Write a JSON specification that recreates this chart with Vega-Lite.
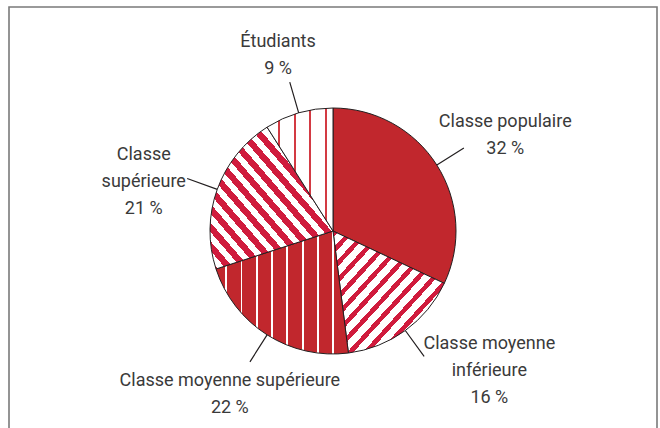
{
  "$schema": "https://vega.github.io/schema/vega-lite/v6.json",
  "autosize": "none",
  "width": 648,
  "height": 448,
  "padding": {"left": 9, "top": 7, "right": 3, "bottom": -27},
  "background": "white",
  "config": {"view": {"stroke": null}},
  "data": {"values": [
    {"order": 1, "cat": "Classe populaire", "value": 32, "label": "Classe populaire\n32 %"},
    {"order": 2, "cat": "Classe moyenne inférieure", "value": 16, "label": "Classe moyenne\ninférieure\n16 %"},
    {"order": 3, "cat": "Classe moyenne supérieure", "value": 22, "label": "Classe moyenne supérieure\n22 %"},
    {"order": 4, "cat": "Classe supérieure", "value": 21, "label": "Classe\nsupérieure\n21 %"},
    {"order": 5, "cat": "Étudiants", "value": 9, "label": "Étudiants\n9 %"}
  ]},
  "transform": [
    {"stack": "value", "groupby": [], "sort": [{"field": "order", "order": "ascending"}], "as": ["t0", "t1"]},
    {"calculate": "(datum.t0 + datum.t1) / 2", "as": "mid"}
  ],
  "layer": [
    {
      "data": {"values": [{"frame": 1}]},
      "mark": {"type": "rect", "filled": false, "stroke": "#7a7a7a", "strokeWidth": 1.6},
      "encoding": {}
    },
    {
      "mark": {"type": "arc", "outerRadius": 123, "stroke": "#231f20", "strokeWidth": 1},
      "encoding": {
        "theta": {"field": "t0", "type": "quantitative", "scale": {"domain": [0, 100]}},
        "theta2": {"field": "t1"},
        "fill": {
          "condition": [
            {"test": "datum.cat === 'Classe moyenne inférieure'", "value": {"gradient": "linear", "x1": 0, "y1": 0, "x2": 1, "y2": 1, "stops": [
              {"offset": 0, "color": "#d01b3d"}, {"offset": 0.028, "color": "#d01b3d"}, {"offset": 0.028, "color": "#ffffff"}, {"offset": 0.07, "color": "#ffffff"},
              {"offset": 0.07, "color": "#d01b3d"}, {"offset": 0.098, "color": "#d01b3d"}, {"offset": 0.098, "color": "#ffffff"}, {"offset": 0.14, "color": "#ffffff"},
              {"offset": 0.14, "color": "#d01b3d"}, {"offset": 0.168, "color": "#d01b3d"}, {"offset": 0.168, "color": "#ffffff"}, {"offset": 0.21, "color": "#ffffff"},
              {"offset": 0.21, "color": "#d01b3d"}, {"offset": 0.238, "color": "#d01b3d"}, {"offset": 0.238, "color": "#ffffff"}, {"offset": 0.28, "color": "#ffffff"},
              {"offset": 0.28, "color": "#d01b3d"}, {"offset": 0.308, "color": "#d01b3d"}, {"offset": 0.308, "color": "#ffffff"}, {"offset": 0.35, "color": "#ffffff"},
              {"offset": 0.35, "color": "#d01b3d"}, {"offset": 0.378, "color": "#d01b3d"}, {"offset": 0.378, "color": "#ffffff"}, {"offset": 0.42, "color": "#ffffff"},
              {"offset": 0.42, "color": "#d01b3d"}, {"offset": 0.448, "color": "#d01b3d"}, {"offset": 0.448, "color": "#ffffff"}, {"offset": 0.49, "color": "#ffffff"},
              {"offset": 0.49, "color": "#d01b3d"}, {"offset": 0.518, "color": "#d01b3d"}, {"offset": 0.518, "color": "#ffffff"}, {"offset": 0.56, "color": "#ffffff"},
              {"offset": 0.56, "color": "#d01b3d"}, {"offset": 0.588, "color": "#d01b3d"}, {"offset": 0.588, "color": "#ffffff"}, {"offset": 0.63, "color": "#ffffff"},
              {"offset": 0.63, "color": "#d01b3d"}, {"offset": 0.658, "color": "#d01b3d"}, {"offset": 0.658, "color": "#ffffff"}, {"offset": 0.7, "color": "#ffffff"},
              {"offset": 0.7, "color": "#d01b3d"}, {"offset": 0.728, "color": "#d01b3d"}, {"offset": 0.728, "color": "#ffffff"}, {"offset": 0.77, "color": "#ffffff"},
              {"offset": 0.77, "color": "#d01b3d"}, {"offset": 0.798, "color": "#d01b3d"}, {"offset": 0.798, "color": "#ffffff"}, {"offset": 0.84, "color": "#ffffff"},
              {"offset": 0.84, "color": "#d01b3d"}, {"offset": 0.868, "color": "#d01b3d"}, {"offset": 0.868, "color": "#ffffff"}, {"offset": 0.91, "color": "#ffffff"},
              {"offset": 0.91, "color": "#d01b3d"}, {"offset": 0.938, "color": "#d01b3d"}, {"offset": 0.938, "color": "#ffffff"}, {"offset": 0.98, "color": "#ffffff"},
              {"offset": 0.98, "color": "#d01b3d"}, {"offset": 1, "color": "#d01b3d"}
            ]}},
            {"test": "datum.cat === 'Classe supérieure'", "value": {"gradient": "linear", "x1": 0, "y1": 1, "x2": 1, "y2": 0, "stops": [
              {"offset": 0, "color": "#d01b3d"}, {"offset": 0.034, "color": "#d01b3d"}, {"offset": 0.034, "color": "#ffffff"}, {"offset": 0.066, "color": "#ffffff"},
              {"offset": 0.066, "color": "#d01b3d"}, {"offset": 0.1, "color": "#d01b3d"}, {"offset": 0.1, "color": "#ffffff"}, {"offset": 0.132, "color": "#ffffff"},
              {"offset": 0.132, "color": "#d01b3d"}, {"offset": 0.166, "color": "#d01b3d"}, {"offset": 0.166, "color": "#ffffff"}, {"offset": 0.198, "color": "#ffffff"},
              {"offset": 0.198, "color": "#d01b3d"}, {"offset": 0.232, "color": "#d01b3d"}, {"offset": 0.232, "color": "#ffffff"}, {"offset": 0.264, "color": "#ffffff"},
              {"offset": 0.264, "color": "#d01b3d"}, {"offset": 0.298, "color": "#d01b3d"}, {"offset": 0.298, "color": "#ffffff"}, {"offset": 0.33, "color": "#ffffff"},
              {"offset": 0.33, "color": "#d01b3d"}, {"offset": 0.364, "color": "#d01b3d"}, {"offset": 0.364, "color": "#ffffff"}, {"offset": 0.396, "color": "#ffffff"},
              {"offset": 0.396, "color": "#d01b3d"}, {"offset": 0.43, "color": "#d01b3d"}, {"offset": 0.43, "color": "#ffffff"}, {"offset": 0.462, "color": "#ffffff"},
              {"offset": 0.462, "color": "#d01b3d"}, {"offset": 0.496, "color": "#d01b3d"}, {"offset": 0.496, "color": "#ffffff"}, {"offset": 0.528, "color": "#ffffff"},
              {"offset": 0.528, "color": "#d01b3d"}, {"offset": 0.562, "color": "#d01b3d"}, {"offset": 0.562, "color": "#ffffff"}, {"offset": 0.594, "color": "#ffffff"},
              {"offset": 0.594, "color": "#d01b3d"}, {"offset": 0.628, "color": "#d01b3d"}, {"offset": 0.628, "color": "#ffffff"}, {"offset": 0.66, "color": "#ffffff"},
              {"offset": 0.66, "color": "#d01b3d"}, {"offset": 0.694, "color": "#d01b3d"}, {"offset": 0.694, "color": "#ffffff"}, {"offset": 0.726, "color": "#ffffff"},
              {"offset": 0.726, "color": "#d01b3d"}, {"offset": 0.76, "color": "#d01b3d"}, {"offset": 0.76, "color": "#ffffff"}, {"offset": 0.792, "color": "#ffffff"},
              {"offset": 0.792, "color": "#d01b3d"}, {"offset": 0.826, "color": "#d01b3d"}, {"offset": 0.826, "color": "#ffffff"}, {"offset": 0.858, "color": "#ffffff"},
              {"offset": 0.858, "color": "#d01b3d"}, {"offset": 0.892, "color": "#d01b3d"}, {"offset": 0.892, "color": "#ffffff"}, {"offset": 0.924, "color": "#ffffff"},
              {"offset": 0.924, "color": "#d01b3d"}, {"offset": 0.958, "color": "#d01b3d"}, {"offset": 0.958, "color": "#ffffff"}, {"offset": 0.99, "color": "#ffffff"},
              {"offset": 0.99, "color": "#d01b3d"}, {"offset": 1, "color": "#d01b3d"}
            ]}},
            {"test": "datum.cat === 'Classe moyenne supérieure'", "value": {"gradient": "linear", "x1": 0, "y1": 0, "x2": 1, "y2": 0, "stops": [
              {"offset": 0, "color": "#c1272d"}, {"offset": 0.07, "color": "#c1272d"}, {"offset": 0.07, "color": "#ffffff"}, {"offset": 0.083, "color": "#ffffff"},
              {"offset": 0.083, "color": "#c1272d"}, {"offset": 0.186, "color": "#c1272d"}, {"offset": 0.186, "color": "#ffffff"}, {"offset": 0.199, "color": "#ffffff"},
              {"offset": 0.199, "color": "#c1272d"}, {"offset": 0.301, "color": "#c1272d"}, {"offset": 0.301, "color": "#ffffff"}, {"offset": 0.314, "color": "#ffffff"},
              {"offset": 0.314, "color": "#c1272d"}, {"offset": 0.417, "color": "#c1272d"}, {"offset": 0.417, "color": "#ffffff"}, {"offset": 0.43, "color": "#ffffff"},
              {"offset": 0.43, "color": "#c1272d"}, {"offset": 0.532, "color": "#c1272d"}, {"offset": 0.532, "color": "#ffffff"}, {"offset": 0.545, "color": "#ffffff"},
              {"offset": 0.545, "color": "#c1272d"}, {"offset": 0.648, "color": "#c1272d"}, {"offset": 0.648, "color": "#ffffff"}, {"offset": 0.661, "color": "#ffffff"},
              {"offset": 0.661, "color": "#c1272d"}, {"offset": 0.763, "color": "#c1272d"}, {"offset": 0.763, "color": "#ffffff"}, {"offset": 0.776, "color": "#ffffff"},
              {"offset": 0.776, "color": "#c1272d"}, {"offset": 0.878, "color": "#c1272d"}, {"offset": 0.878, "color": "#ffffff"}, {"offset": 0.891, "color": "#ffffff"},
              {"offset": 0.891, "color": "#c1272d"}, {"offset": 1, "color": "#c1272d"}
            ]}},
            {"test": "datum.cat === 'Étudiants'", "value": {"gradient": "linear", "x1": 0, "y1": 0, "x2": 1, "y2": 0, "stops": [
              {"offset": 0, "color": "#ffffff"}, {"offset": 0.162, "color": "#ffffff"}, {"offset": 0.162, "color": "#d33a43"}, {"offset": 0.198, "color": "#d33a43"},
              {"offset": 0.198, "color": "#ffffff"}, {"offset": 0.402, "color": "#ffffff"}, {"offset": 0.402, "color": "#d33a43"}, {"offset": 0.438, "color": "#d33a43"},
              {"offset": 0.438, "color": "#ffffff"}, {"offset": 0.637, "color": "#ffffff"}, {"offset": 0.637, "color": "#d33a43"}, {"offset": 0.673, "color": "#d33a43"},
              {"offset": 0.673, "color": "#ffffff"}, {"offset": 0.872, "color": "#ffffff"}, {"offset": 0.872, "color": "#d33a43"}, {"offset": 0.908, "color": "#d33a43"},
              {"offset": 0.908, "color": "#ffffff"}, {"offset": 1, "color": "#ffffff"}
            ]}}
          ],
          "value": "#c1272d"
        }
      }
    },
    {
      "mark": {"type": "arc", "outerRadius": 155, "innerRadius": 123, "filled": false, "stroke": "#231f20", "strokeWidth": 1.2},
      "encoding": {
        "theta": {"field": "mid", "type": "quantitative", "scale": {"domain": [0, 100]}},
        "theta2": {"field": "mid"}
      }
    },
    {
      "mark": {
        "type": "text",
        "radius": 197,
        "thetaOffset": {"expr": "datum.cat === 'Classe moyenne inférieure' ? -0.316 : (datum.cat === 'Classe supérieure' ? 0.037 : (datum.cat === 'Classe moyenne supérieure' ? 0.037 : 0))"},
        "radiusOffset": {"expr": "datum.cat === 'Classe populaire' ? 7 : (datum.cat === 'Classe supérieure' ? 7 : (datum.cat === 'Classe moyenne supérieure' ? -15 : (datum.cat === 'Classe moyenne inférieure' ? -4 : 0)))"},
        "font": "Liberation Sans Narrow, Roboto, sans-serif",
        "fontSize": 18,
        "lineBreak": "\n",
        "lineHeight": 27,
        "align": "center",
        "baseline": "middle",
        "fill": "#3a3a3a"
      },
      "encoding": {
        "theta": {"field": "mid", "type": "quantitative", "scale": {"domain": [0, 100]}},
        "text": {"field": "label"}
      }
    }
  ]
}
